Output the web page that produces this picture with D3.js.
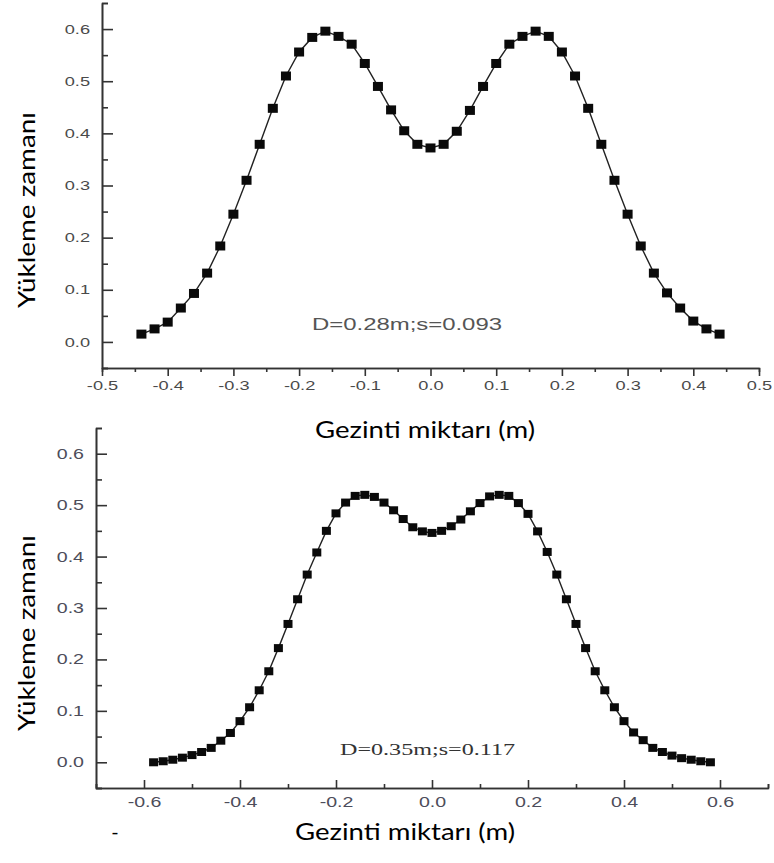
<!DOCTYPE html>
<html>
<head>
<meta charset="utf-8">
<script src="https://cdnjs.cloudflare.com/ajax/libs/d3/7.8.5/d3.min.js"></script>
<style>
body { margin: 0; background: #fff; }
</style>
</head>
<body>
<div id="chart"></div>
<script>
// upper panel, D=0.28m
var topX = [-0.44, -0.42, -0.40, -0.38, -0.36, -0.34, -0.32, -0.30, -0.28, -0.26, -0.24, -0.22, -0.20, -0.18, -0.16,
	-0.14, -0.12, -0.10, -0.08, -0.06, -0.04, -0.02, 0.00, 0.02, 0.04, 0.06, 0.08, 0.10, 0.12, 0.14,
	0.16, 0.18, 0.20, 0.22, 0.24, 0.26, 0.28, 0.30, 0.32, 0.34, 0.36, 0.38, 0.40, 0.42, 0.44];
var topY = [0.015, 0.025, 0.038, 0.065, 0.093, 0.132, 0.184, 0.245, 0.310, 0.379, 0.448, 0.510, 0.556, 0.584, 0.596,
	0.586, 0.571, 0.534, 0.490, 0.445, 0.405, 0.379, 0.372, 0.379, 0.404, 0.444, 0.490, 0.534, 0.571, 0.586,
	0.596, 0.586, 0.556, 0.510, 0.448, 0.379, 0.310, 0.245, 0.184, 0.132, 0.094, 0.065, 0.040, 0.025, 0.015];

// lower panel, D=0.35m
var botX = [-0.58, -0.56, -0.54, -0.52, -0.50, -0.48, -0.46, -0.44, -0.42, -0.40, -0.38, -0.36, -0.34, -0.32, -0.30,
	-0.28, -0.26, -0.24, -0.22, -0.20, -0.18, -0.16, -0.14, -0.12, -0.10, -0.08, -0.06, -0.04, -0.02, 0.00,
	0.02, 0.04, 0.06, 0.08, 0.10, 0.12, 0.14, 0.16, 0.18, 0.20, 0.22, 0.24, 0.26, 0.28, 0.30,
	0.32, 0.34, 0.36, 0.38, 0.40, 0.42, 0.44, 0.46, 0.48, 0.50, 0.52, 0.54, 0.56, 0.58];
var botY = [0.000, 0.002, 0.005, 0.009, 0.014, 0.020, 0.028, 0.042, 0.057, 0.080, 0.107, 0.140, 0.177, 0.222, 0.269,
	0.317, 0.365, 0.408, 0.450, 0.484, 0.505, 0.518, 0.520, 0.516, 0.505, 0.490, 0.473, 0.457, 0.449, 0.446,
	0.450, 0.459, 0.472, 0.488, 0.504, 0.517, 0.520, 0.518, 0.504, 0.483, 0.449, 0.409, 0.365, 0.317, 0.269,
	0.222, 0.177, 0.140, 0.107, 0.080, 0.058, 0.043, 0.028, 0.020, 0.013, 0.008, 0.005, 0.002, 0.000];

var topXTicks = [-0.5, -0.4, -0.3, -0.2, -0.1, 0.0, 0.1, 0.2, 0.3, 0.4, 0.5];
var topXMinor = [-0.45, -0.35, -0.25, -0.15, -0.05, 0.05, 0.15, 0.25, 0.35, 0.45];
var botXTicks = [-0.6, -0.4, -0.2, 0.0, 0.2, 0.4, 0.6];
var botXMinor = [-0.7, -0.5, -0.3, -0.1, 0.1, 0.3, 0.5, 0.7];
var yTicks = [0.0, 0.1, 0.2, 0.3, 0.4, 0.5, 0.6];
var yMinor = [-0.05, 0.05, 0.15, 0.25, 0.35, 0.45, 0.55, 0.65];

var xTitle = "Gezinti miktarı (m)";
var yTitle = "Yükleme zamanı";

var w = 774;
var h = 863;

var svg = d3.select("#chart")
			.append("svg")
			.attr("width", w)
			.attr("height", h);

function fmt(d) { return d.toFixed(1); }

// the scanned labels are wider than any local font, so stretch them
function stretch(sel, k) {
	sel.each(function() {
		d3.select(this)
			.attr("textLength", this.getComputedTextLength() * k)
			.attr("lengthAdjust", "spacingAndGlyphs");
	});
}

function styleAxis(g) {
	g.select(".domain").attr("stroke", "#333").attr("stroke-width", 1.6);
	g.selectAll(".tick line").attr("stroke", "#333").attr("stroke-width", 1.6);
}

function panel(p) {
	var xScale = d3.scaleLinear().domain(p.xDomain).range(p.xRange);
	var yScale = d3.scaleLinear().domain([-0.05, 0.65]).range(p.yRange);
	var g = svg.append("g");

	// x axis
	var xMinor = g.append("g")
				.attr("transform", "translate(0," + p.yRange[0] + ")")
				.call(d3.axisBottom(xScale).tickValues(p.xMinor).tickSize(p.xTick * 0.5).tickFormat(""));
	styleAxis(xMinor);
	var xAxis = g.append("g")
				.attr("transform", "translate(0," + p.yRange[0] + ")")
				.call(d3.axisBottom(xScale).tickValues(p.xTicks).tickSize(p.xTick)
					.tickSizeOuter(0).tickPadding(p.xPad).tickFormat(fmt));
	styleAxis(xAxis);
	xAxis.selectAll("text")
		.attr("font-family", "Liberation Sans, Arial, sans-serif")
		.attr("font-size", p.tickFont)
		.attr("fill", p.tickColor)
		.call(stretch, 1.4);

	// y axis, ticks drawn inward
	var yMin = g.append("g")
				.attr("transform", "translate(" + p.xRange[0] + ",0)")
				.call(d3.axisLeft(yScale).tickValues(yMinor).tickSize(-6).tickFormat(""));
	styleAxis(yMin);
	var yAxis = g.append("g")
				.attr("transform", "translate(" + p.xRange[0] + ",0)")
				.call(d3.axisLeft(yScale).tickValues(yTicks).tickSize(-11)
					.tickSizeOuter(0).tickPadding(12).tickFormat(fmt));
	styleAxis(yAxis);
	yAxis.selectAll("text")
		.attr("font-family", "Liberation Sans, Arial, sans-serif")
		.attr("font-size", p.tickFont)
		.attr("fill", p.tickColor)
		.call(stretch, 1.4);

	var pts = p.xs.map(function(x, i) { return [x, p.ys[i]]; });

	var line = d3.line()
				.x(function(d) { return xScale(d[0]); })
				.y(function(d) { return yScale(d[1]); });

	g.append("path")
		.datum(pts)
		.attr("d", line)
		.attr("fill", "none")
		.attr("stroke", "#222")
		.attr("stroke-width", 1.4);

	g.selectAll("rect.pt")
		.data(pts)
		.enter()
		.append("rect")
		.attr("class", "pt")
		.attr("x", function(d) { return xScale(d[0]) - p.mw / 2; })
		.attr("y", function(d) { return yScale(d[1]) - p.mh / 2; })
		.attr("width", p.mw)
		.attr("height", p.mh)
		.attr("fill", "#0a0a0a");

	g.append("text")
		.attr("x", p.note.x)
		.attr("y", p.note.y)
		.attr("font-family", p.note.font)
		.attr("font-size", p.note.size)
		.attr("fill", p.note.color)
		.attr("textLength", p.note.len)
		.attr("lengthAdjust", "spacingAndGlyphs")
		.text(p.note.text);

	g.append("text")
		.attr("x", p.xTitle[0])
		.attr("y", p.xTitle[1])
		.attr("text-anchor", "middle")
		.attr("font-family", "Lato, sans-serif")
		.attr("font-size", 24)
		.attr("fill", "#000")
		.attr("textLength", 220)
		.attr("lengthAdjust", "spacingAndGlyphs")
		.text(xTitle);

	g.append("text")
		.attr("transform", "translate(35," + p.yTitleY + ") rotate(-90)")
		.attr("text-anchor", "middle")
		.attr("font-family", "Lato, sans-serif")
		.attr("font-size", 24)
		.attr("fill", "#000")
		.attr("textLength", 196)
		.attr("lengthAdjust", "spacingAndGlyphs")
		.text(yTitle);
}

panel({
	xs: topX, ys: topY,
	xDomain: [-0.5, 0.5], xRange: [102, 759], yRange: [368, 3],
	xTicks: topXTicks, xMinor: topXMinor, xTick: 8, xPad: 5,
	tickFont: 13, tickColor: "#4a4a4a",
	mw: 10, mh: 9,
	note: { text: "D=0.28m;s=0.093", x: 312, y: 330, len: 190, size: 16, color: "#555",
		font: "Liberation Sans, Arial, sans-serif" },
	xTitle: [425, 438], yTitleY: 210
});

panel({
	xs: botX, ys: botY,
	xDomain: [-0.7, 0.7], xRange: [96, 768], yRange: [788, 428],
	xTicks: botXTicks, xMinor: botXMinor, xTick: -8, xPad: 9,
	tickFont: 14, tickColor: "#4d4d5a",
	mw: 9, mh: 8,
	note: { text: "D=0.35m;s=0.117", x: 340, y: 755, len: 175, size: 17, color: "#333",
		font: "Liberation Serif, Times New Roman, serif" },
	xTitle: [405, 840], yTitleY: 633
});

svg.append("text")
	.attr("x", 115)
	.attr("y", 839)
	.attr("text-anchor", "middle")
	.attr("font-family", "Lato, sans-serif")
	.attr("font-size", 20)
	.text("-");
</script>
</body>
</html>
